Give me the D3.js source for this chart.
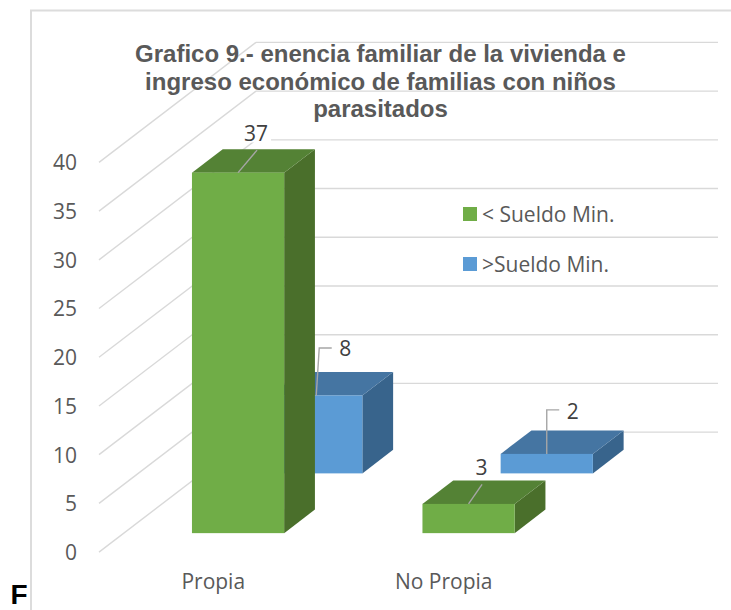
<!DOCTYPE html>
<html><head><meta charset="utf-8">
<script src="https://cdn.jsdelivr.net/npm/d3@7"></script>
<style>html,body{margin:0;padding:0;background:#fff}svg{display:block}
.axis path,.axis line{display:none}</style></head>
<body><div id="chart"></div>
<script>
const categories = ["Propia", "No Propia"];
const seriesNames = ["< Sueldo Min.", ">Sueldo Min."];
const lowIncome = [37, 3];
const highIncome = [8, 2];
const yTicks = [0, 5, 10, 15, 20, 25, 30, 35, 40];
const titleLines = ["Grafico 9.- enencia familiar de la vivienda e", "ingreso económico de familias con niños", "parasitados"];
const cornerLetter = "F";

const W = 731, H = 610;
const FONT = "'Open Sans',sans-serif", TITLE = "'Liberation Sans',Arial,sans-serif";
const GRID = "#D9D9D9", TEXT = "#595959";
const palette = [
  {front:"#70AD47", top:"#548235", side:"#4A6F2B"},
  {front:"#5B9BD5", top:"#4575A2", side:"#38648C"}
];
const svg = d3.select("#chart").append("svg").attr("width", W).attr("height", H);

// scales: value -> height, category -> x, depth fraction -> oblique offset
const y = d3.scaleLinear().domain([0, 40]).range([552.1, 162.4]);
const x = d3.scaleBand().domain(categories).range([98, 559]).paddingInner(0.6).paddingOuter(0.3);
const depthX = d3.scaleLinear().domain([0, 1]).range([0, 157]);
const depthY = d3.scaleLinear().domain([0, 1]).range([0, -120]);
const seriesDepth = d3.scalePoint().domain([0, 1]).range([0.158, 0.656]);
const barDepth = 0.196, wallRight = 718;
const yLen = v => y(0) - y(v);

// chart frame
svg.append("path").attr("d", `M31,${H}V10.5H${W}`).attr("fill", "none").attr("stroke", "#DCDCDC").attr("stroke-width", 2);

// gridlines: side wall + back wall
const grid = svg.append("g").attr("stroke", GRID).attr("stroke-width", 1.4).attr("fill", "none");
const xL = x.range()[0] + 1;
yTicks.forEach(v => {
  const bx = xL + depthX(1), by = y(v) + depthY(1);
  grid.append("line").attr("x1", xL).attr("y1", y(v)).attr("x2", bx).attr("y2", by);
  const startX = v === 0 ? x(categories[1]) + x.bandwidth() + depthX(seriesDepth(1) + barDepth) : bx;
  grid.append("line").attr("x1", startX).attr("y1", by).attr("x2", wallRight).attr("y2", by);
});

// axes
const yAxis = svg.append("g").attr("class", "axis").attr("transform", "translate(84,0.6)")
  .call(d3.axisLeft(y).tickValues(yTicks).tickSize(0).tickPadding(7));
const xAxis = svg.append("g").attr("class", "axis").attr("transform", `translate(0,${y(0)})`)
  .call(d3.axisBottom(x).tickSize(0).tickPadding(22));
[yAxis, xAxis].forEach(a => a.selectAll("text").attr("font-family", FONT).attr("font-size", 21).attr("fill", TEXT));

// bars (back series first)
const values = [lowIncome, highIncome];
function barGeom(s, i) {
  const d = seriesDepth(s), v = values[s][i];
  const x0 = x(categories[i]) + depthX(d), x1 = x0 + x.bandwidth();
  const yb = y(0) + depthY(d), yt = yb - yLen(v);
  return {x0, x1, yb, yt, dx: depthX(barDepth), dy: depthY(barDepth), s, i, v};
}
const bars = svg.append("g");
[1, 0].forEach(s => {
  categories.forEach((c, i) => {
    const g = barGeom(s, i), col = palette[s];
    const grp = bars.append("g");
    grp.append("path").attr("fill", col.side)
      .attr("d", `M${g.x1},${g.yb}L${g.x1 + g.dx},${g.yb + g.dy}V${g.yt + g.dy}L${g.x1},${g.yt}Z`);
    grp.append("path").attr("fill", col.top)
      .attr("d", `M${g.x0},${g.yt}L${g.x0 + g.dx},${g.yt + g.dy}H${g.x1 + g.dx}L${g.x1},${g.yt}Z`);
    grp.append("rect").attr("x", g.x0).attr("y", g.yt).attr("width", g.x1 - g.x0).attr("height", g.yb - g.yt).attr("fill", col.front);
  });
});

// title
svg.append("g").selectAll("text").data(titleLines).join("text")
  .attr("x", 380.5).attr("y", (d, i) => 62 + i * 27.5).attr("text-anchor", "middle")
  .attr("font-family", TITLE).attr("font-weight", 700).attr("font-size", 24).attr("fill", TEXT).text(d => d);

// data labels with leader lines; offsets from the top-front centre of each bar
const labelSpec = [
  {s:0, i:0, leader:[[19, -22.5]], lx:18, ly:-39.5},
  {s:1, i:0, leader:[[3, -47.5], [15.5, -47.5]], lx:29, ly:-46.5},
  {s:0, i:1, leader:[[13.5, -19.5]], lx:13, ly:-36.5},
  {s:1, i:1, leader:[[0, -44], [12.5, -44]], lx:26, ly:-42.5}
];
const ann = svg.append("g");
labelSpec.forEach(l => {
  const g = barGeom(l.s, l.i), cx = (g.x0 + g.x1) / 2;
  const line = d3.line()([[cx, g.yt], ...l.leader.map(p => [cx + p[0], g.yt + p[1]])]);
  ann.append("path").attr("d", line).attr("fill", "none").attr("stroke", "#A6A6A6").attr("stroke-width", 1.4);
  const t = ann.append("text").attr("x", cx + l.lx).attr("y", g.yt + l.ly).attr("dy", "0.35em").attr("text-anchor", "middle")
    .attr("font-family", FONT).attr("font-size", 21).attr("fill", "#404040").text(g.v);
  const b = t.node().getBBox();
  ann.insert("rect", () => t.node()).attr("x", b.x - 3).attr("y", b.y + 4).attr("width", b.width + 6).attr("height", b.height - 8).attr("fill", "#fff");
});

// legend
const legend = svg.append("g").selectAll("g").data(seriesNames).join("g")
  .attr("transform", (d, i) => `translate(463,${214 + i * 50})`);
legend.append("rect").attr("y", -7).attr("width", 14).attr("height", 14).attr("fill", (d, i) => palette[i].front);
legend.append("text").attr("x", 19).attr("y", 1).attr("dy", "0.35em").attr("font-family", FONT).attr("font-size", 21).attr("fill", TEXT).text(d => d);

// stray letter at bottom-left
svg.append("text").attr("x", 10.5).attr("y", 604).attr("font-family", TITLE).attr("font-weight", 700).attr("font-size", 28).attr("fill", "#000").text(cornerLetter);
</script></body></html>
